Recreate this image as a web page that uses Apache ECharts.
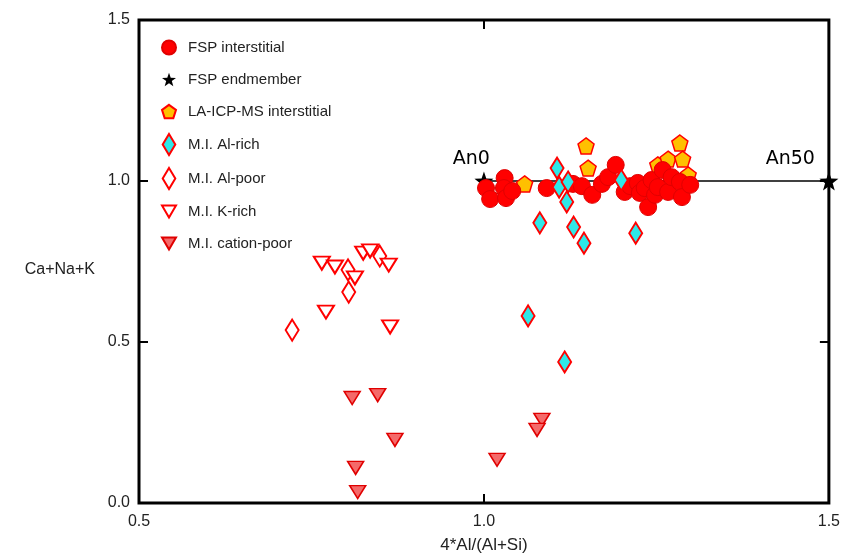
<!DOCTYPE html>
<html>
<head>
<meta charset="utf-8">
<title>Ca+Na+K vs 4*Al/(Al+Si)</title>
<script src="https://cdn.jsdelivr.net/npm/echarts@6/dist/echarts.min.js"></script>
<style>
	html, body { margin: 0; padding: 0; background: #fff; }
	#echarts_box { width: 843px; height: 560px; }
</style>
</head>
<body>
<div id="echarts_box"></div>
<script>
/*数据: [4*Al/(Al+Si), Ca+Na+K]*/
var fspInterstitial = [
	[1.003, 0.978], [1.009, 0.944], [1.030, 1.009], [1.029, 0.978], [1.032, 0.947],
	[1.041, 0.969], [1.091, 0.978], [1.129, 0.991], [1.142, 0.984], [1.157, 0.957],
	[1.171, 0.991], [1.180, 1.012], [1.191, 1.050], [1.204, 0.966], [1.212, 0.984],
	[1.223, 0.994], [1.226, 0.963], [1.233, 0.978], [1.238, 0.919], [1.243, 1.003],
	[1.248, 0.957], [1.252, 0.981], [1.259, 1.034], [1.267, 0.966], [1.272, 1.012],
	[1.284, 0.997], [1.287, 0.950], [1.299, 0.988]
];
var fspEndmember = [[1.0, 1.0], [1.5, 1.0]];
var endmemberNames = ['An0', 'An50'];
var laIcpMs = [
	[1.059, 0.991], [1.148, 1.109], [1.151, 1.040], [1.252, 1.050],
	[1.267, 1.068], [1.284, 1.118], [1.288, 1.068], [1.296, 1.019]
];
var miAlRich = [
	[1.106, 1.040], [1.109, 0.981], [1.122, 0.997], [1.120, 0.935], [1.081, 0.870],
	[1.130, 0.857], [1.145, 0.807], [1.199, 1.003], [1.220, 0.838], [1.064, 0.581],
	[1.117, 0.438]
];
var miAlPoor = [[0.722, 0.537], [0.803, 0.724], [0.804, 0.655], [0.849, 0.767]];
var miKRich = [
	[0.765, 0.745], [0.784, 0.733], [0.825, 0.776], [0.835, 0.783], [0.862, 0.739],
	[0.813, 0.699], [0.771, 0.593], [0.864, 0.547]
];
var miCationPoor = [
	[0.809, 0.326], [0.846, 0.335], [0.871, 0.196], [0.814, 0.109], [0.817, 0.034],
	[1.019, 0.134], [1.084, 0.258], [1.077, 0.227]
];
var legendNames = ['FSP interstitial', 'FSP endmember', 'LA-ICP-MS interstitial',
	'M.I. Al-rich', 'M.I. Al-poor', 'M.I. K-rich', 'M.I. cation-poor'];
/*刻度*/
var xTicks = [1.0];
var yTicks = [0.5, 1.0];

var chartObj = function() {
	this.mychart;
}
chartObj.prototype.init = function() {
	this.mychart = echarts.init(document.getElementById('echarts_box'));
}
chartObj.prototype.doEChart = function() {
	/*符号路径*/
	var pentagon = 'path://M0,-10 L9.51,-3.09 L5.88,8.09 L-5.88,8.09 L-9.51,-3.09 Z';
	var star = 'path://M0,-10 L2.35,-3.24 L9.51,-3.09 L3.80,1.24 L5.88,8.09 L0,4 L-5.88,8.09 L-3.80,1.24 L-9.51,-3.09 L-2.35,-3.24 Z';
	var downTri = 'path://M0,0 L10,0 L5,8.66 Z';
	var diamond = 'path://M0,-10 L6,0 L0,10 L-6,0 Z';
	var fmt = function(v) { return v.toFixed(1); };
	var tickStyle = { color: '#000', width: 2 };
	var noLine = { show: false, onZero: false };

	var endData = fspEndmember.map(function(p, i) {
		return {
			value: p,
			label: {
				show: true,
				formatter: endmemberNames[i],
				position: 'top',
				align: 'right',
				offset: [i == 0 ? 6 : -14, 0],
				distance: 3,
				color: '#000',
				fontSize: 19,
				fontFamily: 'DejaVu Sans'
			}
		};
	});

	var option = {
		animation: false,
		backgroundColor: '#fff',
		/*外框*/
		grid: { left: 139, right: 14, top: 20, bottom: 57, show: true, borderColor: '#000', borderWidth: 3 },
		legend: {
			data: legendNames,
			orient: 'vertical',
			left: 156,
			top: 32,
			itemWidth: 14,
			itemHeight: 21,
			itemGap: 11,
			textStyle: { color: '#222', fontSize: 15, lineHeight: 21, fontFamily: 'Liberation Sans', padding: [0, 0, 0, 7] }
		},
		xAxis: [{
			type: 'value', min: 0.5, max: 1.5, interval: 0.5,
			name: '4*Al/(Al+Si)', nameLocation: 'middle', nameGap: 34,
			nameTextStyle: { color: '#222', fontSize: 17, fontFamily: 'Liberation Sans' },
			axisLine: noLine,
			axisTick: { show: true, inside: true, length: 9, customValues: xTicks, lineStyle: tickStyle },
			axisLabel: { color: '#222', fontSize: 16, fontFamily: 'Liberation Sans', margin: 11, formatter: fmt },
			splitLine: { show: false }
		}, {
			type: 'value', min: 0.5, max: 1.5, interval: 0.5, position: 'top',
			axisLine: noLine,
			axisTick: { show: true, inside: true, length: 9, customValues: xTicks, lineStyle: tickStyle },
			axisLabel: { show: false },
			splitLine: { show: false }
		}],
		yAxis: [{
			type: 'value', min: 0, max: 1.5, interval: 0.5,
			name: 'Ca+Na+K', nameLocation: 'middle', nameRotate: 0, nameGap: 44,
			nameTextStyle: { color: '#222', fontSize: 16, fontFamily: 'Liberation Sans', align: 'right', verticalAlign: 'top' },
			axisLine: noLine,
			axisTick: { show: true, inside: true, length: 9, customValues: yTicks, lineStyle: tickStyle },
			axisLabel: { color: '#222', fontSize: 16, fontFamily: 'Liberation Sans', margin: 9, formatter: fmt },
			splitLine: { show: false }
		}, {
			type: 'value', min: 0, max: 1.5, interval: 0.5, position: 'right',
			axisLine: noLine,
			axisTick: { show: true, inside: true, length: 9, customValues: yTicks, lineStyle: tickStyle },
			axisLabel: { show: false },
			splitLine: { show: false }
		}],
		series: [{
			/*An0 - An50 连线*/
			type: 'line',
			data: fspEndmember,
			symbol: 'none',
			lineStyle: { color: '#000', width: 1.5 },
			z: 1,
			silent: true
		}, {
			name: 'FSP interstitial',
			type: 'scatter',
			data: fspInterstitial,
			symbol: 'circle',
			symbolSize: 17,
			itemStyle: { color: '#f00', borderColor: '#e00000', borderWidth: 1, opacity: 1 },
			z: 3
		}, {
			name: 'FSP endmember',
			type: 'scatter',
			data: endData,
			symbol: star,
			symbolSize: 19,
			itemStyle: { color: '#000', opacity: 1 },
			z: 2
		}, {
			name: 'LA-ICP-MS interstitial',
			type: 'scatter',
			data: laIcpMs,
			symbol: pentagon,
			symbolSize: 16,
			itemStyle: { color: '#ffc000', borderColor: '#f00', borderWidth: 1.5, opacity: 1 },
			z: 2
		}, {
			name: 'M.I. Al-rich',
			type: 'scatter',
			data: miAlRich,
			symbol: diamond,
			symbolSize: [13, 21],
			itemStyle: { color: '#2ee8e8', borderColor: '#f00', borderWidth: 2, opacity: 1 },
			z: 4
		}, {
			name: 'M.I. Al-poor',
			type: 'scatter',
			data: miAlPoor,
			symbol: diamond,
			symbolSize: [13, 21],
			itemStyle: { color: '#fff', borderColor: '#f00', borderWidth: 2, opacity: 1 },
			z: 4
		}, {
			name: 'M.I. K-rich',
			type: 'scatter',
			data: miKRich,
			symbol: downTri,
			symbolSize: [16, 13],
			itemStyle: { color: '#fff', borderColor: '#f00', borderWidth: 2, opacity: 1 },
			z: 4
		}, {
			name: 'M.I. cation-poor',
			type: 'scatter',
			data: miCationPoor,
			symbol: downTri,
			symbolSize: [16, 13],
			itemStyle: { color: '#f46a6a', borderColor: '#e00000', borderWidth: 1.5, opacity: 1 },
			z: 4
		}]
	};
	this.mychart.setOption(option);
}

var myChartFun = new chartObj();
myChartFun.init();
myChartFun.doEChart();
</script>
</body>
</html>
